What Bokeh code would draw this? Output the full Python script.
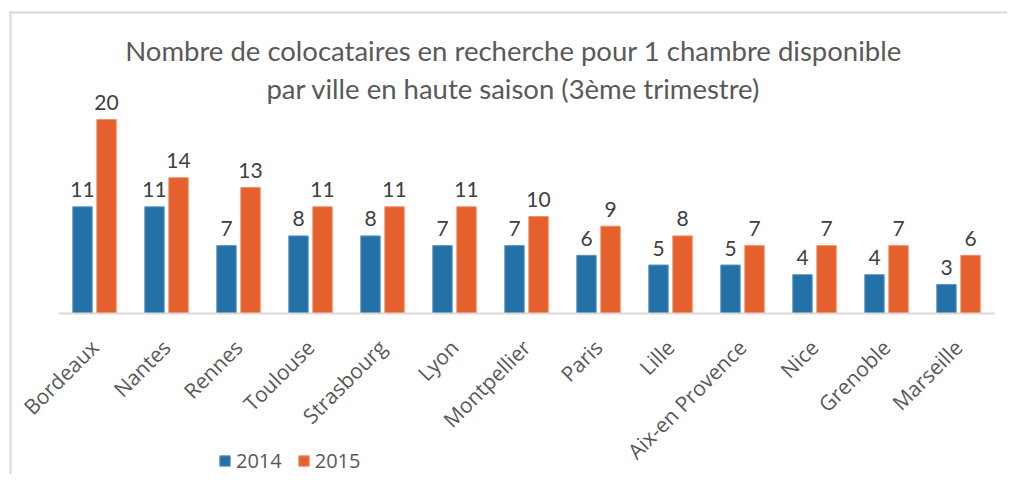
import math
from bokeh.plotting import figure
from bokeh.models import (ColumnDataSource, Label, Legend, LegendItem, Range1d, FixedTicker,
                          BoxAnnotation)
from bokeh.transform import dodge
from bokeh.core.properties import value
from bokeh.embed import file_html
from bokeh.resources import INLINE

cities = ["Bordeaux", "Nantes", "Rennes", "Toulouse", "Strasbourg", "Lyon", "Montpellier",
          "Paris", "Lille", "Aix-en Provence", "Nice", "Grenoble", "Marseille"]
v2014 = [11, 11, 7, 8, 8, 7, 7, 6, 5, 5, 4, 4, 3]
v2015 = [20, 14, 13, 11, 11, 11, 10, 9, 8, 7, 7, 7, 6]
series = ["2014", "2015"]
title_lines = ["Nombre de colocataires en recherche pour 1 chambre disponible",
               "par ville en haute saison (3ème trimestre)"]

BLUE = "#2471A8"
ORANGE = "#E5602D"

idx = list(range(len(cities)))
src = ColumnDataSource(dict(i=idx, city=cities, v2014=v2014, v2015=v2015,
                            l2014=[str(v) for v in v2014], l2015=[str(v) for v in v2015]))

W, H = 1007, 474
CAT = 72.0      # pixels per category
X0 = 94.0       # first category centre, px from canvas left
PXU = 9.7       # pixels per value unit
BASE = 313.0    # baseline, px from canvas top


def xpx(px):
    return (px - X0) / CAT


def ypx(py):
    return (BASE - py) / PXU


p = figure(x_range=Range1d(xpx(0), xpx(W)), y_range=Range1d(ypx(H), ypx(0)),
           width=W, height=H, output_backend="svg", toolbar_location=None,
           min_border_left=0, min_border_right=0, min_border_top=0, min_border_bottom=0)
p.outline_line_color = None
p.grid.visible = False
p.yaxis.visible = False

# chart-area border: left and top edges only (the others fall outside the window)
p.add_layout(BoxAnnotation(left=xpx(9), right=xpx(11), top=ypx(11), bottom=None,
                           fill_color="#D9D9D9", fill_alpha=1, line_color=None))
p.add_layout(BoxAnnotation(left=xpx(9), right=None, top=ypx(11), bottom=ypx(13),
                           fill_color="#D9D9D9", fill_alpha=1, line_color=None))

off = 0.167
bw = 0.27
r1 = p.vbar(x=dodge("i", -off), top="v2014", width=bw, source=src,
            fill_color=BLUE, line_color="#5F97C3", line_width=1)
r2 = p.vbar(x=dodge("i", off), top="v2015", width=bw, source=src,
            fill_color=ORANGE, line_color="#EE926B", line_width=1)

p.text(x=dodge("i", -off), y="v2014", text="l2014", source=src,
       text_align="center", text_baseline="alphabetic", y_offset=-17,
       text_font=value("Lato"), text_font_size="21px", text_color="#404040")
p.text(x=dodge("i", off), y="v2015", text="l2015", source=src,
       text_align="center", text_baseline="alphabetic", y_offset=-17,
       text_font=value("Lato"), text_font_size="21px", text_color="#404040")

for t, py in zip(title_lines, [50, 88]):
    p.add_layout(Label(x=xpx(513), y=ypx(py), text=t, text_align="center",
                       text_baseline="middle", text_font="Lato", text_font_size="27.5px",
                       text_color="#595959"))

ax = p.xaxis[0]
ax.fixed_location = 0
ax.bounds = (-0.5, len(cities) - 0.5)
ax.ticker = FixedTicker(ticks=idx)
ax.major_label_overrides = {i: c for i, c in zip(idx, cities)}
ax.axis_line_color = "#D9D9D9"
ax.axis_line_width = 2
ax.major_tick_line_color = None
ax.minor_tick_line_color = None
ax.major_label_orientation = math.pi / 4
ax.major_label_standoff = 24
ax.major_label_text_font = "Open Sans"
ax.major_label_text_font_size = "21px"
ax.major_label_text_color = "#595959"

legend = Legend(items=[LegendItem(label=series[0], renderers=[r1]),
                       LegendItem(label=series[1], renderers=[r2])],
                orientation="horizontal", location=(218, max(H - 474, 0)),
                glyph_width=13, glyph_height=13, label_standoff=5, spacing=15,
                padding=0, margin=0, border_line_color=None, background_fill_alpha=0,
                label_text_font="Open Sans", label_text_font_size="20px",
                label_text_color="#595959")
p.add_layout(legend)

open("out.html", "w").write(file_html(p, INLINE))
